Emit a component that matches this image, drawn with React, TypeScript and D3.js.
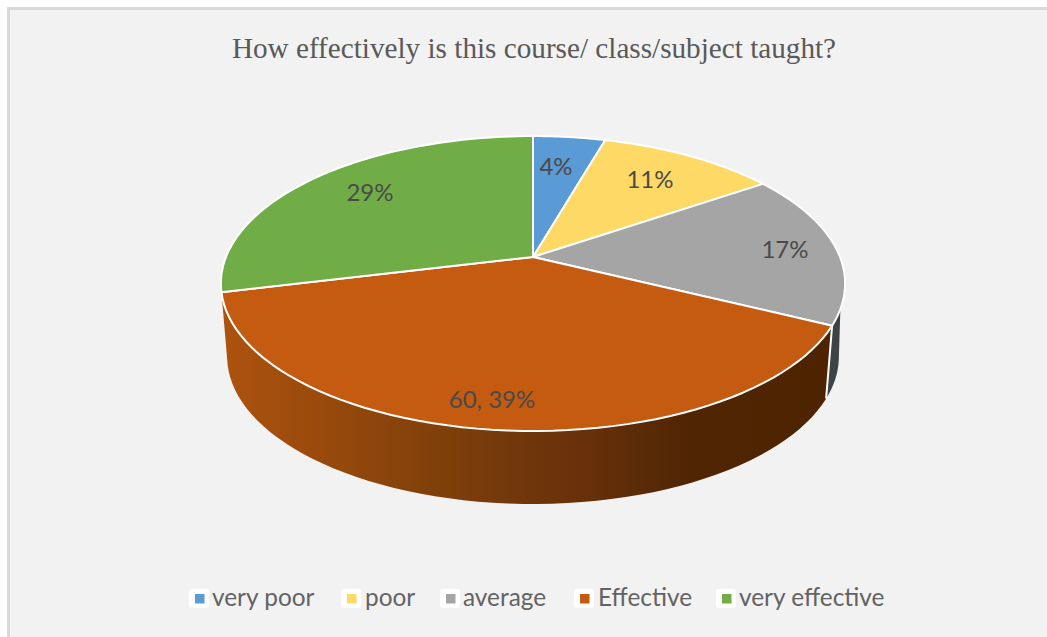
import React from 'react';
import * as d3 from 'd3';

const categories = ['very poor', 'poor', 'average', 'Effective', 'very effective'];
const shares = [4.45, 11, 16.85, 38.9, 28.8];
const labels = ['4%', '11%', '17%', '60, 39%', '29%'];
const colors = ['#5b9bd5', '#ffd966', '#a5a5a5', '#c55a11', '#70ad47'];
const title = 'How effectively is this course/ class/subject taught?';

const width = 1047;
const height = 637;

// pie is tilted, so the far side looks smaller than the near side
const cx = 533;
const cy = 257;
const radiusX = 307;
const radiusY = 142.7;
const tilt = 0.18;
const depth = 73;
const bottomScale = 0.98;

// where Excel left the data labels
const labelX = [556, 650, 785, 492, 370];
const labelY = [167, 180, 250, 400, 193];

const legendX = [189, 341, 440, 574, 716];
const legendTextX = [212, 365, 463, 598, 739];

const color = d3.scaleOrdinal<string, string>().domain(categories).range(colors);
const slices = d3.pie<number>().sort(null).value(d => d)(shares);

function rim(a: number): [number, number] {
  const w = 1 + tilt * Math.cos(a);
  return [cx + (radiusX * Math.sin(a)) / w, cy - (radiusY * Math.cos(a)) / w];
}

function lowerRim(a: number): [number, number] {
  const [x, y] = rim(a);
  return [cx + (x - cx) * bottomScale, y + depth];
}

const line = d3.line();

function arcPoints(f: (a: number) => [number, number], a0: number, a1: number) {
  return d3.range(0, 61).map(i => f(a0 + ((a1 - a0) * i) / 60));
}

function slicePath(a0: number, a1: number) {
  return line([[cx, cy], ...arcPoints(rim, a0, a1)]) + 'Z';
}

function wallPath(a0: number, a1: number, b0: number, b1: number) {
  return line([...arcPoints(rim, a0, a1), ...arcPoints(lowerRim, b1, b0)]) + 'Z';
}

const deg = Math.PI / 180;
const wallSlice = slices[3];
const greySlice = slices[2];

export default function App() {
  return (
    <svg width={width} height={height} style={{ position: 'fixed', left: 0, top: 0, display: 'block' }}>
      <defs>
        <linearGradient id="wallFill" gradientUnits="userSpaceOnUse" x1={226} x2={830} y1={0} y2={0}>
          <stop offset="0" stopColor="#ad520e" />
          <stop offset="0.35" stopColor="#80400a" />
          <stop offset="0.6" stopColor="#66300a" />
          <stop offset="0.78" stopColor="#4f2503" />
          <stop offset="1" stopColor="#4d2300" />
        </linearGradient>
      </defs>
      <rect width={width} height={height} fill="#ffffff" />
      <rect x={8.5} y={8.5} width={1200} height={800} fill="#f2f2f2" stroke="#d9d9d9" strokeWidth={3} />

      <text x={534} y={58} textAnchor="middle" fontFamily="Liberation Serif" fontSize={29.2} fill="#595959">
        {title}
      </text>

      {/* side walls */}
      <path
        d={wallPath(greySlice.endAngle, 110 * deg, greySlice.endAngle, 101 * deg)}
        fill="#3f4347"
      />
      <path
        d={wallPath(wallSlice.startAngle, wallSlice.endAngle, wallSlice.startAngle, wallSlice.endAngle)}
        fill="url(#wallFill)"
      />
      <path
        d={line([rim(wallSlice.startAngle), lowerRim(wallSlice.startAngle)]) as string}
        stroke="#ffffff"
        strokeWidth={2}
        fill="none"
      />

      {/* top face */}
      {slices.map((s, i) => (
        <path
          key={categories[i]}
          d={slicePath(s.startAngle, s.endAngle)}
          fill={color(categories[i])}
          stroke="#ffffff"
          strokeWidth={2}
          strokeLinejoin="round"
        />
      ))}

      {labels.map((t, i) => (
        <text
          key={t}
          x={labelX[i]}
          y={labelY[i]}
          dy="0.35em"
          textAnchor="middle"
          fontFamily="Lato"
          fontSize={24}
          fill="#4a4a4a"
        >
          {t}
        </text>
      ))}

      {categories.map((c, i) => (
        <g key={c}>
          <rect x={legendX[i]} y={589} width={20} height={19} rx={3} fill="#ffffff" />
          <rect x={legendX[i] + 6} y={594} width={9.5} height={9.5} fill={color(c)} />
          <text x={legendTextX[i]} y={606} fontFamily="Lato" fontSize={24.4} fill="#636363">
            {c}
          </text>
        </g>
      ))}
    </svg>
  );
}
